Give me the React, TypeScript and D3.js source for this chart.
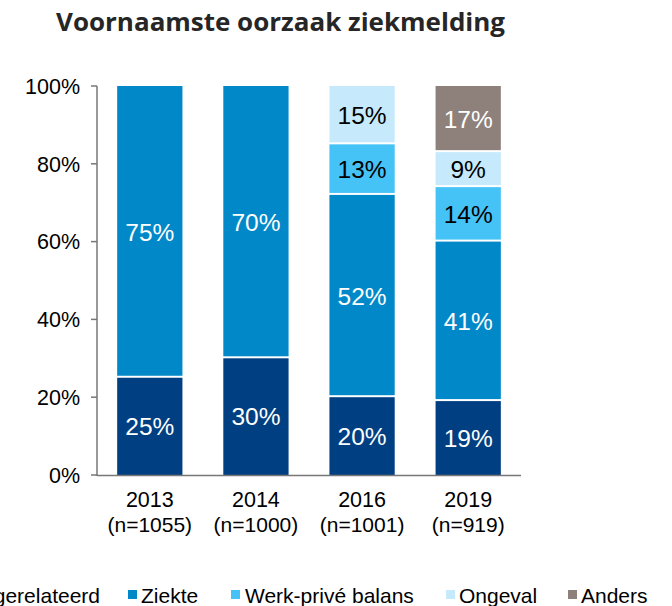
import React from "react";
import * as d3 from "d3";

const years = ["2013", "2014", "2016", "2019"];
const sampleSizes = ["(n=1055)", "(n=1000)", "(n=1001)", "(n=919)"];
const seriesNames = ["Werkgerelateerd", "Ziekte", "Werk-privé balans", "Ongeval", "Anders"];
const werkgerelateerd = [25, 30, 20, 19];
const ziekte = [75, 70, 52, 41];
const werkPrive = [0, 0, 13, 14];
const ongeval = [0, 0, 15, 9];
const anders = [0, 0, 0, 17];
const yTicks = [0, 20, 40, 60, 80, 100];

const colors = ["#004082", "#0088C8", "#45C3F7", "#C6EAFC", "#8E817C"];
const labelColors = ["#fff", "#fff", "#000", "#000", "#fff"];

export default function App() {
  const W = 672, H = 606;
  const series = [werkgerelateerd, ziekte, werkPrive, ongeval, anders];
  const x = d3.scaleBand<string>().domain(years).range([97, 521]).paddingInner(0.385).paddingOuter(0.19);
  const y = d3.scaleLinear().domain([0, 100]).range([475, 86]);

  const segs: any[] = [];
  years.forEach((yr, i) => {
    let cum = 0;
    series.forEach((s, k) => {
      const v = s[i];
      if (v > 0) {
        const top = y(cum + v);
        const bottom = y(cum) - (cum > 0 ? 2 : 0);
        segs.push({ yr, k, v, top, bottom, mid: y(cum + v / 2) });
      }
      cum += v;
    });
  });

  const legendItems = [
    { k: 0, mx: -20, tx: 100, anchor: "end" },
    { k: 1, mx: 128, tx: 141, anchor: "start" },
    { k: 2, mx: 231, tx: 245, anchor: "start" },
    { k: 3, mx: 446, tx: 459, anchor: "start" },
    { k: 4, mx: 568, tx: 581, anchor: "start" },
  ];

  return (
    <svg width={W} height={H} style={{ position: "absolute", left: 0, top: 0, background: "#fff" }}
      fontFamily="'Liberation Sans', Arial, sans-serif">
      <text x={56} y={31} fontFamily="'Open Sans', sans-serif" fontWeight={700} fontSize={24.5}
        fill="#262626" textLength={449} lengthAdjust="spacingAndGlyphs">Voornaamste oorzaak ziekmelding</text>

      {segs.map((s, i) => (
        <rect key={i} x={x(s.yr)} y={s.top} width={x.bandwidth()} height={Math.max(0, s.bottom - s.top)} fill={colors[s.k]} />
      ))}
      {segs.map((s, i) => (
        <text key={"l" + i} x={(x(s.yr) as number) + x.bandwidth() / 2} y={s.mid} dy="0.36em" textAnchor="middle"
          fontSize={24.5} fill={labelColors[s.k]}>{s.v}%</text>
      ))}

      <line x1={97} x2={97} y1={86} y2={476} stroke="#777" strokeWidth={1.5} />
      <line x1={97} x2={521} y1={475.5} y2={475.5} stroke="#777" strokeWidth={1.5} />
      {yTicks.map((t) => (
        <g key={t}>
          <line x1={91} x2={97} y1={y(t)} y2={y(t)} stroke="#777" strokeWidth={1.5} />
          <text x={80} y={y(t)} dy="0.36em" textAnchor="end" fontSize={21.5} fill="#000">{t}%</text>
        </g>
      ))}
      {years.map((yr, i) => (
        <g key={yr}>
          <text x={(x(yr) as number) + x.bandwidth() / 2} y={507} textAnchor="middle" fontSize={21.5} fill="#000">{yr}</text>
          <text x={(x(yr) as number) + x.bandwidth() / 2} y={532} textAnchor="middle" fontSize={21} fill="#000">{sampleSizes[i]}</text>
        </g>
      ))}

      {legendItems.map((it) => (
        <g key={it.k}>
          <rect x={it.mx} y={590} width={9} height={9} fill={colors[it.k]} />
          <text x={it.tx} y={603} textAnchor={it.anchor as any} fontSize={21} fill="#000">{seriesNames[it.k]}</text>
        </g>
      ))}
    </svg>
  );
}
